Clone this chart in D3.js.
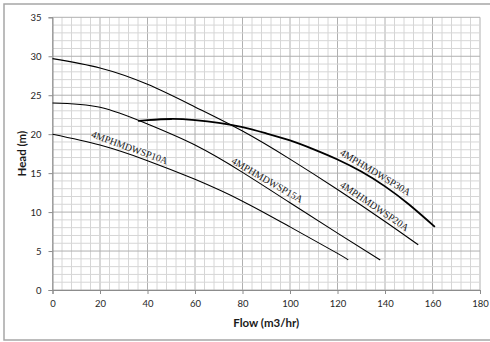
<!DOCTYPE html>
<html>
<head>
<meta charset="utf-8">
<script src="https://cdn.jsdelivr.net/npm/d3@7"></script>
<style>
  body { margin: 0; background: #fff; }
  svg { display: block; }
</style>
</head>
<body>
<svg id="chart" width="490" height="342"></svg>
<script>
// pump curves: flow (m3/hr) and head (m)
var flow10 = [0, 20, 40, 60, 80, 100, 120, 124.5];
var head10 = [20, 18.6, 16.6, 14.2, 11.4, 8.1, 4.7, 3.85];
var flow15 = [0, 20, 40, 60, 80, 100, 120, 138];
var head15 = [24, 23.45, 21.3, 18.6, 15.1, 11.2, 7.3, 3.85];
var flow20 = [0, 20, 40, 60, 80, 100, 120, 140, 154];
var head20 = [29.7, 28.5, 26.4, 23.5, 20.4, 16.8, 12.9, 8.8, 5.8];
var flow30 = [36, 40, 50, 60, 70, 80, 90, 100, 110, 120, 130, 140, 150, 161];
var head30 = [21.7, 21.8, 21.95, 21.8, 21.45, 20.9, 20.1, 19.2, 18.05, 16.75, 15.2, 13.3, 11.0, 8.1];

var names = ['4MPHMDWSP10A', '4MPHMDWSP15A', '4MPHMDWSP20A', '4MPHMDWSP30A'];
var labelFlow = [31.5, 89, 134, 134.5];     // flow at the middle of each name
var labelAngle = [20, 30, 34, 31];

var xTicks = [0, 20, 40, 60, 80, 100, 120, 140, 160, 180];
var yTicks = [0, 5, 10, 15, 20, 25, 30, 35];

var svg = d3.select('#chart');
var plotL = 52.5, plotR = 480, plotT = 17.3, plotB = 290;

var x = d3.scaleLinear().domain([0, 180]).range([plotL, plotR]);
var y = d3.scaleLinear().domain([0, 35]).range([plotB, plotT]);

// outer frame
svg.append('rect')
  .attr('x', 4).attr('y', 4)
  .attr('width', 500).attr('height', 336)
  .attr('fill', 'none')
  .attr('stroke', '#a6a6a6')
  .attr('stroke-width', 1.5);

// minor grid: every 4 on flow, every 1 on head
svg.append('g').selectAll('line')
  .data(d3.range(0, 181, 4))
  .enter().append('line')
  .attr('x1', function(d) { return x(d); }).attr('x2', function(d) { return x(d); })
  .attr('y1', plotT).attr('y2', plotB)
  .attr('stroke', d => d % 20 === 0 ? '#b0b0b0' : '#d6d6d6')
  .attr('stroke-width', 1);

svg.append('g').selectAll('line')
  .data(d3.range(0, 36, 1))
  .enter().append('line')
  .attr('x1', plotL).attr('x2', plotR)
  .attr('y1', function(d) { return y(d); }).attr('y2', function(d) { return y(d); })
  .attr('stroke', d => d % 5 === 0 ? '#b0b0b0' : '#d6d6d6')
  .attr('stroke-width', 1);

// axes
var xAxis = svg.append('g')
  .attr('transform', 'translate(0,' + plotB + ')')
  .call(d3.axisBottom(x).tickValues(xTicks).tickSize(4).tickPadding(6));
var yAxis = svg.append('g')
  .attr('transform', 'translate(' + plotL + ',0)')
  .call(d3.axisLeft(y).tickValues(yTicks).tickSize(4).tickPadding(7));

[xAxis, yAxis].forEach(function(a) {
  a.select('.domain').attr('stroke', '#8c8c8c');
  a.selectAll('.tick line').attr('stroke', '#8c8c8c');
  a.selectAll('.tick text')
    .attr('fill', '#262626')
    .style('font-family', 'Lato, "Open Sans", sans-serif')
    .style('font-size', '9.5px');
});

// axis titles
svg.append('text')
  .attr('x', (plotL + plotR) / 2).attr('y', 327)
  .attr('text-anchor', 'middle')
  .style('font-family', 'Lato, "Open Sans", sans-serif')
  .style('font-size', '11.5px').style('font-weight', 'bold')
  .attr('fill', '#1a1a1a')
  .text('Flow (m3/hr)');

svg.append('text')
  .attr('transform', 'translate(26,' + ((plotT + plotB) / 2) + ') rotate(-90)')
  .attr('text-anchor', 'middle')
  .style('font-family', 'Lato, "Open Sans", sans-serif')
  .style('font-size', '11.5px').style('font-weight', 'bold')
  .attr('fill', '#1a1a1a')
  .text('Head (m)');

// curves
var line = d3.line()
  .x(function(d) { return x(d[0]); })
  .y(function(d) { return y(d[1]); })
  .curve(d3.curveNatural);

var series = [
  [flow10, head10, 1.1],
  [flow15, head15, 1.1],
  [flow20, head20, 1.1],
  [flow30, head30, 1.8]
];

for (i = 0; i < series.length; i++) {
  svg.append('path')
    .datum(d3.zip(series[i][0], series[i][1]))
    .attr('d', line)
    .attr('fill', 'none')
    .attr('stroke', '#000')
    .attr('stroke-width', series[i][2]);
}

// curve names, set just above their own curve
for (i = 0; i < names.length; i++) {
  var f = labelFlow[i];
  var h = d3.scaleLinear().domain(series[i][0]).range(series[i][1])(f);
  var a = labelAngle[i] * Math.PI / 180;
  var px = x(f) + 7 * Math.sin(a);
  var py = y(h) - 7 * Math.cos(a);
  svg.append('text')
    .attr('transform', 'translate(' + px + ',' + py + ') rotate(' + labelAngle[i] + ')')
    .attr('text-anchor', 'middle')
    .attr('dy', '0.35em')
    .style('font-family', '"Liberation Serif", "Times New Roman", serif')
    .style('font-size', '10px')
    .attr('fill', '#1a1a1a')
    .text(names[i]);
}
</script>
</body>
</html>
